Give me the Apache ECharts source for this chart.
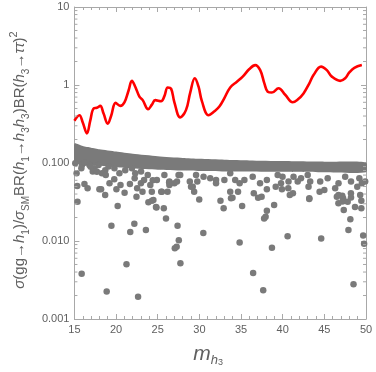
<!DOCTYPE html>
<html>
<head>
<meta charset="utf-8">
<script src="https://cdn.jsdelivr.net/npm/echarts@6/dist/echarts.min.js"></script>
<style>
  html, body { margin: 0; padding: 0; background: #fff; }
  #chart { width: 376px; height: 372px; }
</style>
</head>
<body>
<div id="chart"></div>
<script>
// red curve (m_h3, ratio)
var curveX = [15.0, 15.6, 16.0, 16.5, 16.9, 17.3, 17.7, 18.1, 18.5, 19.0, 19.4, 19.95, 20.5, 21.0, 21.5, 21.9,
  22.3, 22.8, 23.2, 23.85, 24.3, 24.7, 25.4, 25.8, 26.2, 26.6, 27.0, 27.7, 28.4, 28.9, 29.45, 29.9, 30.3,
  31.1, 31.8, 32.4, 33.0, 33.7, 34.5, 35.2, 36.0, 36.7, 37.3, 37.8, 38.2, 38.7, 39.5, 40.3, 41.2, 41.8,
  42.5, 43.2, 43.7, 44.6, 45.3, 45.9, 46.9, 47.5, 48.0, 48.6, 49.5];
var curveY = [0.348, 0.41, 0.33, 0.24, 0.35, 0.50, 0.51, 0.54, 0.43, 0.32, 0.40, 0.59, 0.54, 0.60, 0.85, 1.13,
  0.95, 0.71, 0.64, 0.49, 0.56, 0.64, 0.62, 0.72, 0.93, 0.90, 0.60, 0.385, 0.48, 0.80, 1.22, 0.95, 0.62,
  0.41, 0.46, 0.53, 0.68, 0.93, 1.10, 1.28, 1.60, 1.80, 1.55, 1.05, 0.82, 0.80, 0.91, 0.75, 0.60, 0.65,
  0.78, 1.05, 1.34, 1.72, 1.55, 1.28, 1.13, 1.22, 1.45, 1.66, 1.80];

// dense band of scan points: upper and lower envelope
var bandX   = [15, 16, 17, 18, 20, 22, 25, 28, 30, 33, 36, 40, 45, 50];
var bandTop = [0.178, 0.165, 0.157, 0.150, 0.140, 0.131, 0.122, 0.116, 0.113, 0.110, 0.108, 0.106, 0.104, 0.102];
var bandBot = [0.100, 0.097, 0.095, 0.092, 0.088, 0.085, 0.082, 0.080, 0.079, 0.078, 0.078, 0.077, 0.076, 0.076];

// points hanging just under the band
var edgeDots = [[15.1, 0.099], [15.9, 0.0945], [16.24, 0.101], [16.8, 0.0945], [17.4, 0.0855], [17.2, 0.0776],
  [18.3, 0.0738], [18.7, 0.081], [17.9, 0.0945], [19.1, 0.09], [19.8, 0.0855], [20.4, 0.0738], [21.1, 0.081],
  [21.9, 0.0855], [22.3, 0.0738], [23.0, 0.0776], [23.8, 0.0702], [24.9, 0.0605], [24.4, 0.06], [26.4, 0.058],
  [25.8, 0.0702], [27.7, 0.0702], [28.85, 0.058], [29.6, 0.0702], [30.5, 0.0668], [31.3, 0.0637], [32.0, 0.0605],
  [25.5, 0.0428], [26.4, 0.0522], [29.2, 0.0497], [33.0, 0.0605], [33.7, 0.0738], [34.3, 0.0605], [36.4, 0.0668],
  [38.1, 0.0605], [39.4, 0.0702], [39.8, 0.055], [40.7, 0.058], [41.3, 0.0668], [42.2, 0.0637], [43.0, 0.0702],
  [43.3, 0.058], [44.5, 0.058], [45.4, 0.0637], [46.7, 0.055], [47.5, 0.0668], [48.2, 0.058], [49.2, 0.0637],
  [49.9, 0.058]];

// scattered points between 0.03 and 0.09
var midDots = [[15.26, 0.0738], [15.34, 0.0507], [16.2, 0.0537], [16.58, 0.0474], [15.83, 0.0855], [16.95, 0.0898],
  [18.0, 0.046], [18.2, 0.046], [17.7, 0.0775], [18.76, 0.0702], [19.21, 0.055], [19.78, 0.0618], [20.04, 0.046],
  [20.53, 0.0522], [21.02, 0.0417], [21.66, 0.0537], [22.23, 0.0637], [22.53, 0.0474], [22.98, 0.055],
  [23.17, 0.0428], [23.36, 0.0605], [24.11, 0.0522], [24.29, 0.0428], [24.48, 0.0336], [24.85, 0.0269],
  [25.42, 0.0428], [26.18, 0.0428], [26.37, 0.0565], [27.0, 0.055], [27.31, 0.058], [27.5, 0.0702], [29.0, 0.0497],
  [29.37, 0.0428], [29.75, 0.058], [32.0, 0.055], [33.7, 0.0428], [33.8, 0.0353], [34.64, 0.0428], [34.83, 0.055],
  [35.4, 0.0605], [36.53, 0.0409], [37.28, 0.055], [38.1, 0.046], [39.16, 0.0497], [39.91, 0.046], [40.67, 0.0474],
  [41.23, 0.0409], [39.98, 0.0668], [41.8, 0.058], [43.1, 0.0497], [43.2, 0.0353], [44.43, 0.0428], [45.0, 0.045],
  [46.3, 0.0474], [46.7, 0.039], [47.25, 0.0353], [48.19, 0.041], [49.3, 0.039], [49.5, 0.055], [48.95, 0.0497]];

// sparse points further down
var lowDots = [[15.37, 0.0319], [18.69, 0.039], [22.45, 0.037], [20.19, 0.0281], [23.88, 0.0313], [24.3, 0.0329],
  [24.79, 0.0273], [25.73, 0.0263], [25.99, 0.0195], [29.98, 0.034], [32.53, 0.0329], [19.44, 0.0157],
  [22.19, 0.0167], [21.7, 0.013], [23.58, 0.0138], [27.38, 0.0157], [30.47, 0.0127], [27.53, 0.0102],
  [27.27, 0.00845], [27.05, 0.00805], [21.25, 0.00502], [27.72, 0.00518], [15.87, 0.00381], [18.87, 0.00226],
  [22.64, 0.00193], [32.91, 0.0263], [33.97, 0.0359], [35.13, 0.0281], [37.05, 0.0359], [37.47, 0.037],
  [38.1, 0.0245], [37.95, 0.0205], [37.77, 0.0195], [38.97, 0.029], [40.85, 0.039], [43.19, 0.0345],
  [46.5, 0.037], [47.15, 0.038], [46.69, 0.0304], [47.18, 0.032], [47.8, 0.0319], [48.2, 0.036], [47.33, 0.025],
  [48.68, 0.0273], [49.44, 0.0329], [49.44, 0.0263], [48.12, 0.019], [47.89, 0.0138], [49.66, 0.0118],
  [49.77, 0.0092], [40.59, 0.0115], [44.62, 0.0108], [34.83, 0.0096], [38.71, 0.0082], [36.45, 0.0039],
  [48.5, 0.00279], [37.66, 0.00233]];

var yTickLabels = {'1': '10', '0': '1', '-1': '0.100', '-2': '0.010', '-3': '0.001'};

var gray = '#7a7a7a';
var axisGray = '#a8a8a8';
var textGray = '#606060';

// minor ticks of the log axis: 2..9 x 10^k
var minorVals = [];
for (var k = -3; k <= 0; k++) {
  for (var m = 2; m <= 9; m++) minorVals.push(m * Math.pow(10, k));
}

var chart = echarts.init(document.getElementById('chart'));

var curveData = curveX.map(function (x, i) { return [x, curveY[i]]; });

var option = {
  animation: false,
  grid: { left: 56, right: 10, top: 7, bottom: 53 },
  xAxis: [{
    type: 'value', min: 15, max: 50, interval: 5,
    axisLine: { lineStyle: { color: axisGray } },
    axisTick: { inside: true, length: 5, lineStyle: { color: axisGray } },
    minorTick: { show: true, splitNumber: 5, length: 3, lineStyle: { color: axisGray } },
    splitLine: { show: false },
    axisLabel: { color: textGray, fontSize: 11, fontFamily: 'Liberation Sans', margin: 5 },
    name: '{m|m}{h|h}{s|3}',
    nameLocation: 'middle',
    nameGap: 22,
    nameTextStyle: {
      padding: [0, 24, 0, 0],
      rich: {
        m: { fontSize: 21, fontStyle: 'italic', fontFamily: 'Liberation Sans', color: textGray, lineHeight: 26, verticalAlign: 'middle' },
        h: { fontSize: 13, fontStyle: 'italic', fontFamily: 'Liberation Sans', color: textGray, lineHeight: 13, verticalAlign: 'bottom' },
        s: { fontSize: 9, fontFamily: 'Liberation Sans', color: textGray, lineHeight: 6, verticalAlign: 'bottom' }
      }
    }
  }, {
    type: 'value', min: 15, max: 50, interval: 5, position: 'top',
    axisLine: { lineStyle: { color: axisGray } },
    axisTick: { inside: true, length: 5, lineStyle: { color: axisGray } },
    minorTick: { show: true, splitNumber: 5, length: 3, lineStyle: { color: axisGray } },
    splitLine: { show: false },
    axisLabel: { show: false }
  }],
  yAxis: [{
    type: 'log', logBase: 10, min: 0.001, max: 10,
    axisLine: { show: true, lineStyle: { color: axisGray } },
    axisTick: { show: true, inside: true, length: 5, lineStyle: { color: axisGray } },
    splitLine: { show: false },
    axisLabel: {
      color: textGray, fontSize: 11, fontFamily: 'Liberation Sans', margin: 5,
      formatter: function (v) { return yTickLabels[String(Math.round(Math.log10(v)))] || ''; }
    },
    name: '{it|σ}{n|(gg→}{it|h}{sub|1}{n|)/}{it|σ}{sub|SM}{n|BR(}{it|h}{sub|1}{n|→}{it|h}{sub|3}{it|h}{sub|3}{n|)BR(}{it|h}{sub|3}{n|→}{it|ττ}{n|)}{sup|2}',
    nameLocation: 'middle',
    nameRotate: 90,
    nameGap: 36,
    nameTextStyle: {
      padding: [0, 0, 0, 6],
      rich: {
        n: { fontSize: 15, fontFamily: 'Liberation Sans', color: textGray, lineHeight: 23, verticalAlign: 'middle' },
        it: { fontSize: 15, fontStyle: 'italic', fontFamily: 'Liberation Sans', color: textGray, lineHeight: 23, verticalAlign: 'middle' },
        sub: { fontSize: 10, fontFamily: 'Liberation Sans', color: textGray, lineHeight: 10, verticalAlign: 'bottom' },
        sup: { fontSize: 11, fontFamily: 'Liberation Sans', color: textGray, lineHeight: 10, verticalAlign: 'top' }
      }
    }
  }, {
    type: 'log', logBase: 10, min: 0.001, max: 10, position: 'right',
    axisLine: { show: true, lineStyle: { color: axisGray } },
    axisTick: { show: true, inside: true, length: 5, lineStyle: { color: axisGray } },
    splitLine: { show: false },
    axisLabel: { show: false }
  }],
  series: [{
    // dense band
    type: 'custom',
    coordinateSystem: 'cartesian2d',
    data: [[15, 0.1]],
    clip: true,
    z: 2,
    renderItem: function (params, api) {
      var pts = [];
      for (var i = 0; i < bandX.length; i++) pts.push(api.coord([bandX[i], bandTop[i]]));
      for (var j = bandX.length - 1; j >= 0; j--) pts.push(api.coord([bandX[j], bandBot[j]]));
      return { type: 'polygon', shape: { points: pts, smooth: 0.2 }, style: { fill: gray } };
    }
  }, {
    type: 'scatter',
    data: edgeDots.concat(midDots, lowDots),
    symbolSize: 6.5,
    itemStyle: { color: gray, opacity: 1 },
    z: 3
  }, {
    type: 'line',
    data: curveData,
    smooth: 0.4,
    showSymbol: false,
    lineStyle: { color: '#ff0000', width: 2.6 },
    z: 4
  }, {
    // log-axis minor ticks on left and right frame
    type: 'custom',
    coordinateSystem: 'cartesian2d',
    data: minorVals.map(function (v) { return [15, v]; }),
    z: 5,
    renderItem: function (params, api) {
      var v = api.value(1);
      var l = api.coord([15, v]);
      var r = api.coord([50, v]);
      var st = { stroke: axisGray, lineWidth: 1 };
      return {
        type: 'group',
        children: [
          { type: 'line', shape: { x1: l[0], y1: l[1], x2: l[0] + 3, y2: l[1] }, style: st },
          { type: 'line', shape: { x1: r[0], y1: r[1], x2: r[0] - 3, y2: r[1] }, style: st }
        ]
      };
    }
  }]
};

chart.setOption(option);
</script>
</body>
</html>
